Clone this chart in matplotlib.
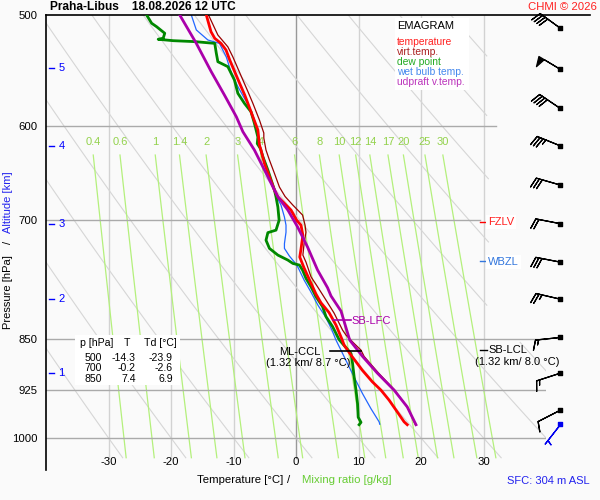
import numpy as np
import matplotlib
matplotlib.use('Agg')
import matplotlib.pyplot as plt
from matplotlib.ticker import NullLocator, NullFormatter

plt.rcParams['font.family'] = ['Liberation Sans', 'DejaVu Sans']

# --- sounding values (p in hPa, T in degC) ---
temp_p = [500, 513.9, 519.5, 523.8, 529.5, 538.3, 548.8, 559.5, 570.1, 577.9, 590.7, 603.7,
          618.8, 623.9, 637.7, 651.8, 666.1, 673.6, 679.1, 688.4, 699.9, 705.6, 717.3, 733.8,
          743.5, 757.0, 770.8, 790.0, 801.4, 814.4, 831.2, 849.6, 858.9, 873.1, 885.1, 894.9,
          912.0, 924.7, 940.0, 958.2, 974.0, 978.6]
temp_t = [-14.35, -13.6, -13.0, -12.0, -11.2, -10.6, -9.8, -9.0, -8.2, -7.7, -6.9, -6.1,
          -5.85, -5.6, -5.05, -4.25, -3.45, -2.9, -2.1, -0.8, 0.1, 0.8, 1.1, 0.8,
          0.6, 1.3, 2.1, 3.2, 4.0, 5.3, 6.4, 7.3, 7.7, 8.8, 9.8, 10.6,
          12.2, 13.6, 14.9, 16.2, 17.3, 17.8]

virt_p = [500, 516.7, 526.8, 535.6, 545.8, 556.2, 566.8, 577.9, 593.9, 606.7, 611.7, 623.9,
          634.2, 648.2, 662.9, 673.2, 682.8, 694.0, 705.6, 713.8, 726.7, 741.1, 749.7, 767.9,
          780.6, 797.8, 815.1, 838.0, 844.9, 856.6, 866.0, 875.0, 899.1, 924.7, 950.5, 978.6]
virt_t = [-14.0, -12.5, -10.9, -10.1, -9.3, -8.5, -7.7, -6.9, -5.85, -5.15, -5.15, -4.8,
          -4.25, -3.45, -2.65, -1.75, -0.5, 1.05, 1.45, 1.6, 1.3, 1.1, 1.6, 2.4,
          3.45, 4.8, 6.1, 7.45, 8.0, 9.3, 10.4, 10.9, 13.2, 15.8, 17.8, 19.1]

dew_p = [500, 506.8, 509.7, 515.2, 519.4, 520.3, 521.5, 522.3, 523.8, 532.4, 539.8, 544.2,
         556.2, 568.5, 577.9, 585.9, 597.2, 610.7, 617.3, 622.3, 630.7, 644.7, 666.1, 673.6,
         685.0, 699.9, 711.4, 714.3, 723.2, 733.0, 741.1, 747.2, 751.3, 753.3, 759.5, 769.9,
         780.6, 793.3, 806.4, 819.7, 833.2, 851.2, 858.9, 870.7, 885.1, 904.6, 924.7, 945.4,
         966.7, 974.8, 978.6]
dew_t = [-23.9, -23.1, -22.3, -21.0, -21.25, -22.05, -19.65, -16.2, -13.0, -12.75, -12.5, -10.9,
         -9.85, -9.3, -8.25, -7.2, -6.65, -6.1, -6.2, -5.7, -5.3, -4.5, -3.45, -3.2,
         -2.9, -2.7, -3.2, -4.5, -4.8, -4.25, -2.9, -1.3, -0.5, 0.55, 1.05, 1.6,
         2.4, 3.2, 4.25, 4.8, 5.85, 6.9, 7.65, 8.8, 9.05, 9.3, 9.6, 9.85,
         9.95, 10.4, 10.1]

wb_p = [500, 512.4, 520.9, 523.8, 535.6, 549.9, 562.3, 573.2, 581.3, 593.9, 608.7, 623.9,
        639.4, 655.3, 671.7, 682.8, 696.3, 705.6, 713.8, 727.3, 733.0, 742.3, 749.7, 755.8,
        772.1, 787.5, 804.4, 821.1, 838.0, 851.9, 870.7, 890.1, 909.7, 930.1, 953.3, 974.0, 977.8]
wb_t = [-16.75, -15.95, -14.1, -12.25, -11.15, -10.35, -9.3, -8.25, -7.45, -6.65, -6.2, -5.6,
        -4.8, -4.0, -3.2, -2.4, -1.85, -1.6, -1.6, -1.85, -1.85, -1.05, -0.25, 0.3,
        1.3, 2.4, 3.5, 4.8, 5.75, 6.4, 7.45, 8.5, 9.55, 10.65, 12.0, 13.3, 13.4]

parcel_p = [500, 523.8, 548.8, 570.1, 590.7, 605.4, 623.9, 651.8, 673.6, 688.4, 707.6, 731.4,
            759.5, 781.8, 792.4, 812.3, 852.0, 875.0, 899.1, 924.7, 950.5, 978.6]
parcel_t = [-18.6, -15.95, -13.55, -11.45, -9.55, -8.5, -6.65, -4.5, -2.9, -1.3, 0.25, 1.85,
            3.45, 5.05, 5.6, 7.2, 8.6, 10.65, 13.0, 15.7, 17.8, 19.2]

# wind barbs: pressure, direction (deg), speed (kt)
barb_p = [511, 546.6, 582.8, 619.6, 660.7, 703.9, 749.7, 796.6, 848.2, 899.3, 955.6]
barb_dir = [306, 301, 304, 292, 286, 281, 281, 283, 264, 252, 243]
barb_kt = [40, 50, 40, 35, 30, 20, 30, 25, 15, 15, 10]
sfc_p, sfc_dir, sfc_kt = 977.8, 218, 5

# table in the lower left
tab_p = ['500', '700', '850']
tab_t = ['-14.3', '-0.2', '7.4']
tab_td = ['-23.9', '-2.6', '6.9']

# chart grid
p_levels = [500, 600, 700, 850, 925, 1000]
iso_t = [-30, -20, -10, 0, 10, 20, 30]
theta_c = list(range(-30, 110, 10))
mix_w = [0.4, 0.6, 1, 1.4, 2, 3, 4, 6, 8, 10, 12, 14, 17, 20, 25, 30]
mix_lbl = ['0.4', '0.6', '1', '1.4', '2', '3', '4', '6', '8', '10', '12', '14', '17', '20', '25', '30']
alt_km = [1, 2, 3, 4, 5]
alt_p = [899, 797, 704, 620, 545]

BG = '#fafafa'
W, H = 600, 500


def td_from_w(w, p):
    e = w * p / (622.0 + w)
    l = np.log(e / 6.112)
    return 243.5 * l / (17.67 - l)


def ftext(x, y, s, **kw):
    kw.setdefault('va', 'center')
    fig.text(x / W, 1 - y / H, s, **kw)


fig = plt.figure(figsize=(6, 5), dpi=100, facecolor=BG)
ax = fig.add_axes([46 / W, 30 / H, 500 / W, 455 / H])
ax.set_facecolor(BG)
ax.set_yscale('log')
ax.set_xlim(-40, 40)
ax.set_ylim(1054, 500)
ax.yaxis.set_minor_locator(NullLocator())
ax.yaxis.set_minor_formatter(NullFormatter())
ax.set_yticks(p_levels)
ax.set_yticklabels([str(p) for p in p_levels])
ax.set_xticks([])
ax.tick_params(axis='y', length=0, pad=6, labelsize=8.2)
for s in ['top', 'right', 'bottom']:
    ax.spines[s].set_visible(False)
ax.spines['left'].set_linewidth(1.2)

# isotherms
for t in iso_t:
    ax.plot([t, t], [500, 1033], color='#999999' if t == 0 else '#d2d2d2', lw=1, zorder=1)

# dry adiabats
pp = np.geomspace(500, 1033, 120)
for th in theta_c:
    tt = (th + 273.15) * (pp / 1000.0) ** 0.2857 - 273.15
    tt = np.where((tt <= 31) | (pp >= 850), tt, np.nan)
    ax.plot(tt, pp, color='#d6d6d6', lw=0.8, zorder=1)

# mixing ratio lines
pm = np.geomspace(629, 1033, 60)
for w, lab in zip(mix_w, mix_lbl):
    ax.plot(td_from_w(w, pm), pm, color='#b4f07c', lw=0.9, zorder=1)
    ax.text(td_from_w(w, 629), 616, lab, color='#93d24c', fontsize=8,
            ha='center', va='center', zorder=1)

# pressure lines
for p in p_levels[1:]:
    xmax = 32 if p == 600 else (29.5 if p == 700 else 40)
    ax.plot([-40, xmax], [p, p], color='#aaaaaa', lw=1, zorder=2)
ax.plot([-40, 47], [500, 500], color='black', lw=1.2, clip_on=False, zorder=5)

# altitude marks
for km, p in zip(alt_km, alt_p):
    ax.plot([-39.6, -38.8], [p, p], color='#0000ff', lw=1, zorder=3)
    ax.text(-38.0, p, str(km), color='#0000ff', fontsize=8, va='center', ha='left')

# profiles
ax.plot(virt_t, virt_p, color='#990000', lw=0.9, zorder=4)
ax.plot(wb_t, wb_p, color='#2266ff', lw=0.9, zorder=4)
ax.plot(dew_t, dew_p, color='#008800', lw=2, zorder=5)
ax.plot(temp_t, temp_p, color='#ff0000', lw=2, zorder=6)
ax.plot(parcel_t, parcel_p, color='#aa00aa', lw=2, zorder=7)

# levels
ax.plot([5.9, 8.8], [824, 824], color='#aa00aa', lw=1.2, zorder=8)
ftext(351, 321, 'SB-LFC', color='#aa00aa', fontsize=8)
ax.plot([5.4, 10.4], [867, 867], color='black', lw=1.2, zorder=8)
ftext(320, 352, 'ML-CCL', color='black', fontsize=8, ha='right')
ftext(308, 363, '(1.32 km/ 8.7 °C)', color='black', fontsize=8, ha='center')
ax.plot([29.5, 30.5], [866, 866], color='black', lw=1, zorder=8)
ftext(488, 350, 'SB-LCL', color='black', fontsize=8)
ftext(517, 362, '(1.32 km/ 8.0 °C)', color='black', fontsize=8, ha='center')
ax.plot([29.5, 30.5], [702, 702], color='#ff0000', lw=1, zorder=8)
ftext(488, 222, 'FZLV', color='#ff2020', fontsize=8,
      bbox=dict(facecolor='white', edgecolor='none', pad=1.5))
ax.plot([29.5, 30.5], [748, 748], color='#3377dd', lw=1, zorder=8)
ftext(488, 262, 'WBZL', color='#3377dd', fontsize=8,
      bbox=dict(facecolor='white', edgecolor='none', pad=1.5))

# wind barbs
xb = 42.3
rad = np.deg2rad(barb_dir)
u = -np.array(barb_kt) * np.sin(rad)
v = -np.array(barb_kt) * np.cos(rad)
ax.barbs(np.full(len(barb_p), xb), barb_p, u, v, length=6, lw=0.9, color='black',
         pivot='tip', flip_barb=True, clip_on=False, zorder=9)
ax.scatter(np.full(len(barb_p), xb), barb_p, marker='s', s=6, color='black',
           clip_on=False, zorder=9)
sr = np.deg2rad(sfc_dir)
ax.barbs([xb], [sfc_p], [-sfc_kt * np.sin(sr)], [-sfc_kt * np.cos(sr)], length=6, lw=0.9,
         color='#0000ee', pivot='tip', flip_barb=True, clip_on=False, zorder=9)
ax.scatter([xb], [sfc_p], marker='s', s=6, color='#0000ee', clip_on=False, zorder=9)

# x tick labels
for t in iso_t:
    ax.text(t, 1040, str(t), fontsize=8.2, ha='center', va='center')

# legend box
ax.add_patch(plt.Rectangle((395 / W, 1 - 90 / H), 74 / W, 72 / H, transform=fig.transFigure,
                           facecolor='white', edgecolor='none', zorder=3))
ftext(397, 26, 'EMAGRAM', fontsize=8)
leg = [('temperature', '#ff2020'), ('virt.temp.', '#aa2020'), ('dew point', '#22aa22'),
       ('wet bulb temp.', '#4488ee'), ('udpraft v.temp.', '#bb33bb')]
for i, (s, c) in enumerate(leg):
    ftext(397, 42 + 10 * i, s, color=c, fontsize=7.4)

# table
ax.add_patch(plt.Rectangle((75 / W, 1 - 385 / H), 105 / W, 50 / H, transform=fig.transFigure,
                           facecolor='white', edgecolor='none', zorder=3))
ftext(97, 343, 'p [hPa]', fontsize=7.6, ha='center')
ftext(127, 343, 'T', fontsize=7.6, ha='center')
ftext(160, 343, 'Td [°C]', fontsize=7.6, ha='center')
for i in range(3):
    y = 358 + 10.3 * i
    ftext(102, y, tab_p[i], fontsize=7.6, ha='right')
    ftext(136, y, tab_t[i], fontsize=7.6, ha='right')
    ftext(173, y, tab_td[i], fontsize=7.6, ha='right')

# titles and labels
ftext(50, 7, 'Praha-Libus    18.08.2026 12 UTC', fontsize=8.6, fontweight='bold')
ftext(597, 7, 'CHMI © 2026', color='#ff2020', fontsize=8.2, ha='right')
ftext(197, 480, 'Temperature [°C]', fontsize=8.2)
ftext(289, 480, '/', fontsize=8.2, ha='center')
ftext(302, 480, 'Mixing ratio [g/kg]', color='#66cc33', fontsize=8.2)
ftext(590, 481, 'SFC: 304 m ASL', color='#2222ee', fontsize=8, ha='right')
ftext(8, 292, 'Pressure [hPa]', fontsize=8, rotation=90, ha='center')
ftext(8, 242, '/', fontsize=8, rotation=90, ha='center')
ftext(8, 202, 'Altitude [km]', color='#2222ee', fontsize=8, rotation=90, ha='center')

fig.savefig('out.png', dpi=100, facecolor=BG)
